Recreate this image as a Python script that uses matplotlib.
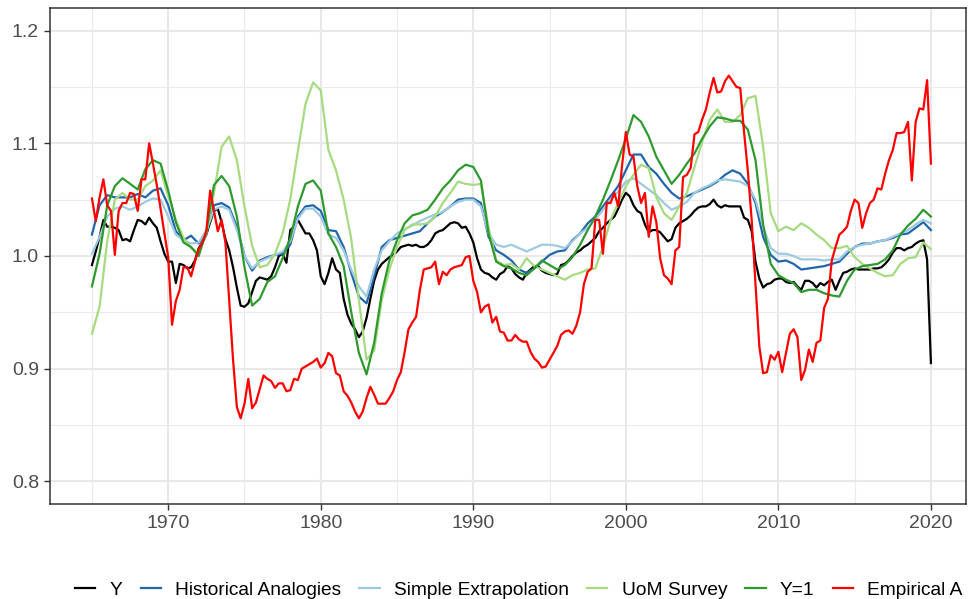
import numpy as np
import matplotlib
matplotlib.use("Agg")
import matplotlib.pyplot as plt
from matplotlib.ticker import MultipleLocator

plt.rcParams["font.family"] = ["Liberation Sans", "DejaVu Sans"]

# quarterly series, one row per year 1965..2019, then 2020Q1
y_actual = [
    0.992, 1.004, 1.017, 1.032,  1.026, 1.026, 1.025, 1.023,  1.014, 1.015, 1.013, 1.023,
    1.032, 1.031, 1.028, 1.034,  1.029, 1.025, 1.013, 1.002,  0.995, 0.995, 0.976, 0.993,
    0.992, 0.989, 0.990, 0.996,  1.007, 1.012, 1.019, 1.030,  1.040, 1.042, 1.030, 1.015,
    1.005, 0.990, 0.972, 0.956,  0.955, 0.958, 0.968, 0.978,  0.981, 0.980, 0.979, 0.982,
    0.990, 1.000, 1.002, 0.994,  1.023, 1.026, 1.032, 1.026,  1.020, 1.020, 1.014, 1.005,
    0.982, 0.975, 0.985, 0.998,  0.988, 0.985, 0.962, 0.948,  0.940, 0.935, 0.928, 0.933,
    0.945, 0.962, 0.978, 0.988,  0.993, 0.996, 0.999, 1.001,  1.004, 1.008, 1.009, 1.010,
    1.009, 1.010, 1.008, 1.008,  1.010, 1.014, 1.020, 1.022,  1.023, 1.026, 1.029, 1.030,
    1.029, 1.025, 1.026, 1.020,  1.012, 0.998, 0.988, 0.985,  0.984, 0.981, 0.979, 0.984,
    0.986, 0.991, 0.989, 0.984,  0.981, 0.979, 0.985, 0.988,  0.991, 0.991, 0.987, 0.985,
    0.984, 0.983, 0.984, 0.992,  0.993, 0.996, 1.000, 1.003,  1.005, 1.008, 1.010, 1.013,
    1.016, 1.022, 1.025, 1.029,  1.032, 1.035, 1.042, 1.050,  1.056, 1.053, 1.045, 1.040,
    1.038, 1.028, 1.021, 1.023,  1.023, 1.021, 1.017, 1.013,  1.015, 1.025, 1.029, 1.031,
    1.033, 1.036, 1.040, 1.043,  1.044, 1.044, 1.046, 1.050,  1.045, 1.043, 1.045, 1.044,
    1.044, 1.044, 1.044, 1.034,  1.032, 1.022, 0.995, 0.980,  0.972, 0.975, 0.976, 0.979,
    0.980, 0.980, 0.977, 0.976,  0.977, 0.973, 0.970, 0.978,  0.978, 0.976, 0.972, 0.976,
    0.974, 0.977, 0.979, 0.970,  0.978, 0.985, 0.986, 0.988,  0.989, 0.988, 0.988, 0.988,
    0.988, 0.989, 0.989, 0.990,  0.993, 0.997, 1.003, 1.007,  1.007, 1.005, 1.007, 1.008,
    1.011, 1.013, 1.014, 0.997,
    0.905,
]

empirical_a = [
    1.051, 1.031, 1.052, 1.068,  1.045, 1.040, 1.001, 1.040,  1.047, 1.047, 1.056, 1.055,
    1.040, 1.068, 1.068, 1.100,  1.082, 1.063, 1.042, 1.020,  0.999, 0.939, 0.960, 0.970,
    0.990, 0.990, 0.982, 0.995,  1.006, 1.012, 1.022, 1.058,  1.040, 1.022, 1.032, 1.012,
    0.960, 0.908, 0.866, 0.856,  0.869, 0.891, 0.865, 0.870,  0.882, 0.894, 0.891, 0.889,
    0.883, 0.887, 0.887, 0.880,  0.881, 0.891, 0.890, 0.900,  0.902, 0.904, 0.906, 0.909,
    0.901, 0.905, 0.914, 0.911,  0.896, 0.894, 0.880, 0.876,  0.870, 0.862, 0.856, 0.862,
    0.874, 0.884, 0.877, 0.869,  0.869, 0.869, 0.874, 0.880,  0.890, 0.897, 0.915, 0.935,
    0.941, 0.946, 0.970, 0.988,  0.989, 0.990, 0.995, 0.975,  0.986, 0.983, 0.988, 0.990,
    0.991, 0.992, 0.999, 1.000,  0.978, 0.968, 0.950, 0.955,  0.957, 0.941, 0.946, 0.933,
    0.932, 0.925, 0.925, 0.930,  0.926, 0.924, 0.924, 0.915,  0.909, 0.906, 0.901, 0.902,
    0.908, 0.914, 0.920, 0.930,  0.933, 0.934, 0.931, 0.938,  0.950, 0.975, 0.986, 0.989,
    1.032, 1.032, 1.002, 1.047,  1.047, 1.056, 1.044, 1.080,  1.110, 1.090, 1.088, 1.062,
    1.047, 1.056, 1.017, 1.044,  1.030, 0.998, 0.983, 0.980,  0.975, 1.005, 1.008, 1.070,
    1.072, 1.078, 1.108, 1.110,  1.121, 1.130, 1.145, 1.158,  1.145, 1.146, 1.155, 1.160,
    1.155, 1.150, 1.149, 1.110,  1.075, 1.032, 0.975, 0.920,  0.896, 0.897, 0.912, 0.908,
    0.915, 0.897, 0.914, 0.931,  0.935, 0.928, 0.890, 0.899,  0.917, 0.906, 0.923, 0.925,
    0.954, 0.962, 0.996, 1.008,  1.019, 1.022, 1.026, 1.040,  1.050, 1.047, 1.025, 1.038,
    1.047, 1.050, 1.060, 1.059,  1.073, 1.085, 1.094, 1.109,  1.109, 1.110, 1.119, 1.067,
    1.119, 1.131, 1.130, 1.156,
    1.082,
]

# half-yearly series, 1965.0 .. 2020.0
historical = [
    1.019, 1.045, 1.054, 1.052, 1.052, 1.052, 1.055, 1.052, 1.058, 1.060,
    1.045, 1.022, 1.014, 1.018, 1.011, 1.020, 1.045, 1.047, 1.043, 1.026,
    1.000, 0.987, 0.996, 0.999, 1.001, 1.002, 1.010, 1.035, 1.044, 1.045,
    1.040, 1.023, 1.022, 1.008, 0.985, 0.964, 0.958, 0.982, 1.008, 1.014,
    1.016, 1.018, 1.020, 1.022, 1.029, 1.035, 1.039, 1.044, 1.050, 1.051,
    1.051, 1.047, 1.017, 1.005, 1.001, 0.996, 0.988, 0.985, 0.989, 0.995,
    1.001, 1.004, 1.005, 1.014, 1.020, 1.029, 1.035, 1.044, 1.053, 1.062,
    1.076, 1.090, 1.090, 1.079, 1.073, 1.064, 1.056, 1.051, 1.053, 1.056,
    1.059, 1.062, 1.066, 1.072, 1.076, 1.073, 1.064, 1.047, 1.017, 1.001,
    0.995, 0.996, 0.993, 0.988, 0.989, 0.990, 0.991, 0.993, 0.995, 1.002,
    1.008, 1.011, 1.011, 1.013, 1.014, 1.016, 1.019, 1.020, 1.025, 1.030,
    1.023,
]

simple = [
    1.002, 1.017, 1.035, 1.042, 1.044, 1.041, 1.044, 1.048, 1.051, 1.050,
    1.035, 1.019, 1.014, 1.011, 1.012, 1.023, 1.041, 1.044, 1.041, 1.023,
    1.000, 0.989, 0.995, 0.998, 1.001, 1.004, 1.013, 1.033, 1.042, 1.042,
    1.035, 1.019, 1.016, 1.005, 0.988, 0.973, 0.964, 0.988, 1.005, 1.013,
    1.020, 1.024, 1.027, 1.031, 1.034, 1.037, 1.039, 1.044, 1.048, 1.050,
    1.050, 1.044, 1.020, 1.010, 1.008, 1.010, 1.007, 1.004, 1.007, 1.010,
    1.010, 1.009, 1.007, 1.013, 1.020, 1.025, 1.032, 1.041, 1.050, 1.057,
    1.066, 1.069, 1.064, 1.059, 1.054, 1.047, 1.041, 1.044, 1.048, 1.056,
    1.060, 1.063, 1.067, 1.068, 1.067, 1.066, 1.062, 1.050, 1.026, 1.007,
    1.002, 1.002, 1.000, 0.997, 0.997, 0.997, 0.996, 0.997, 0.997, 1.004,
    1.008, 1.010, 1.011, 1.013, 1.014, 1.017, 1.020, 1.023, 1.028, 1.032,
    1.029,
]

uom_survey = [
    0.931, 0.955, 1.013, 1.050, 1.056, 1.050, 1.050, 1.062, 1.067, 1.076,
    1.053, 1.032, 1.016, 1.007, 1.003, 1.020, 1.056, 1.097, 1.106, 1.085,
    1.044, 1.009, 0.990, 0.992, 1.002, 1.020, 1.050, 1.093, 1.135, 1.154,
    1.147, 1.094, 1.076, 1.050, 1.015, 0.961, 0.908, 0.916, 0.961, 0.988,
    1.008, 1.023, 1.028, 1.028, 1.029, 1.035, 1.047, 1.056, 1.066, 1.064,
    1.063, 1.064, 1.025, 0.996, 0.992, 0.993, 0.988, 0.998, 0.991, 0.988,
    0.985, 0.982, 0.979, 0.983, 0.985, 0.988, 0.989, 1.008, 1.032, 1.047,
    1.062, 1.072, 1.081, 1.078, 1.052, 1.038, 1.032, 1.044, 1.056, 1.079,
    1.101, 1.121, 1.130, 1.119, 1.119, 1.125, 1.140, 1.142, 1.097, 1.038,
    1.022, 1.026, 1.023, 1.029, 1.025, 1.019, 1.014, 1.007, 1.007, 1.009,
    0.999, 0.993, 0.989, 0.985, 0.982, 0.983, 0.993, 0.998, 0.999, 1.012,
    1.006,
]

y_equals_1 = [
    0.973, 1.002, 1.045, 1.062, 1.069, 1.064, 1.059, 1.077, 1.085, 1.082,
    1.058, 1.030, 1.012, 1.008, 1.000, 1.022, 1.063, 1.071, 1.062, 1.035,
    0.990, 0.956, 0.962, 0.977, 0.982, 0.998, 1.016, 1.044, 1.064, 1.067,
    1.058, 1.020, 1.008, 0.991, 0.950, 0.914, 0.895, 0.923, 0.967, 0.996,
    1.014, 1.029, 1.036, 1.038, 1.041, 1.050, 1.060, 1.067, 1.076, 1.081,
    1.079, 1.067, 1.020, 0.995, 0.991, 0.989, 0.985, 0.983, 0.989, 0.996,
    0.992, 0.988, 0.992, 0.999, 1.010, 1.023, 1.035, 1.050, 1.067, 1.085,
    1.104, 1.125, 1.119, 1.106, 1.088, 1.076, 1.064, 1.072, 1.082, 1.091,
    1.104, 1.115, 1.123, 1.122, 1.120, 1.120, 1.112, 1.085, 1.028, 0.993,
    0.983, 0.979, 0.976, 0.968, 0.970, 0.970, 0.967, 0.965, 0.964, 0.978,
    0.988, 0.991, 0.992, 0.993, 0.997, 1.005, 1.019, 1.027, 1.033, 1.041,
    1.035,
]

quarters = 1965 + np.arange(len(y_actual)) / 4
halves = 1965 + np.arange(len(historical)) / 2

series = [
    ("Y", quarters, y_actual, "black"),
    ("Historical Analogies", halves, historical, "#2166ac"),
    ("Simple Extrapolation", halves, simple, "#9ecae1"),
    ("UoM Survey", halves, uom_survey, "#a6db80"),
    ("Y=1", halves, y_equals_1, "#2e9a2e"),
    ("Empirical A", quarters, empirical_a, "#ff0000"),
]

fig = plt.figure(figsize=(9.68, 5.99), dpi=100)
ax = fig.add_axes([50 / 968, 1 - 504 / 599, 916 / 968, 496 / 599])

for label, x, y, col in series:
    ax.plot(x, y, color=col, linewidth=1.6, label=label)

ax.set_xlim(1962.25, 2022.3)
ax.set_ylim(0.78, 1.22)
ax.xaxis.set_minor_locator(MultipleLocator(5))
ax.yaxis.set_minor_locator(MultipleLocator(0.05))
ax.set_xticks([1970, 1980, 1990, 2000, 2010, 2020])
ax.set_yticks([0.8, 0.9, 1.0, 1.1, 1.2])
ax.set_yticklabels(["0.8", "0.9", "1.0", "1.1", "1.2"])

ax.grid(which="major", color="#e8e8e8", linewidth=1.5)
ax.grid(which="minor", color="#ebebeb", linewidth=0.8)
ax.set_axisbelow(True)
ax.tick_params(which="major", direction="out", length=4, width=1, color="#333333",
               labelsize=14, labelcolor="#4d4d4d", pad=4)
ax.tick_params(which="minor", length=0)
for s in ax.spines.values():
    s.set_color("#333333")
    s.set_linewidth(1.1)

fig.legend(loc="center", bbox_to_anchor=(0.536, 9 / 599), ncol=6, frameon=False,
           fontsize=13.8, handlelength=1.05, handletextpad=0.75, columnspacing=0.95)

fig.savefig("out.png", dpi=100)
